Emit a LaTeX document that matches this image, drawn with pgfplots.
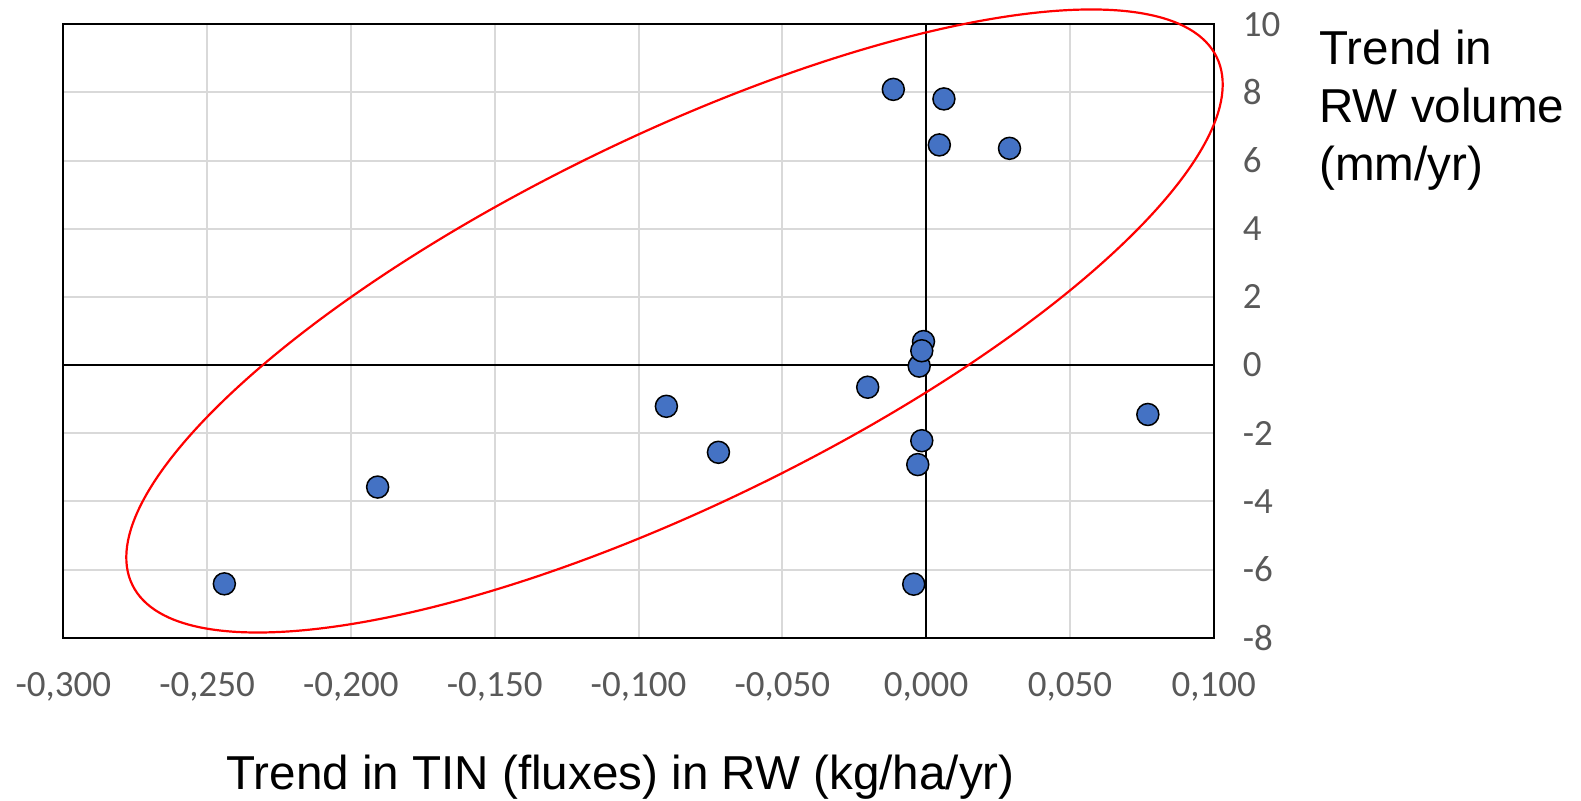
\documentclass[border=0pt]{standalone}
\usepackage{fontspec}
\setmainfont{Liberation Sans}
\newfontfamily\carlito{Carlito}
\usepackage{pgfplots}
\pgfplotsset{compat=1.18}
\definecolor{ptblue}{HTML}{4472C4}
\definecolor{gridgray}{HTML}{D9D9D9}
\definecolor{tickgray}{HTML}{595959}
\begin{document}
\begin{tikzpicture}
\begin{axis}[
  at={(31.65pt,81.65pt)}, anchor=south west,
  scale only axis, width=575.2pt, height=306.7pt,
  xmin=-0.3, xmax=0.1, ymin=-8, ymax=10,
  xtick={-0.3,-0.25,-0.2,-0.15,-0.1,-0.05,0,0.05,0.1},
  ytick={-8,-6,-4,-2,0,2,4,6,8,10},
  major tick length=0pt,
  grid=major,
  major grid style={gridgray, line width=1pt},
  axis line style={black, line width=0.9pt},
  /pgf/number format/assume math mode=true,
  xticklabel style={font=\carlito\fontsize{18.5}{20}\selectfont, text=tickgray,
    anchor=base, yshift=-29.5pt,
    /pgf/number format/.cd, fixed, fixed zerofill, precision=3, use comma},
  yticklabel pos=right,
  yticklabel style={font=\carlito\fontsize{18.5}{20}\selectfont, text=tickgray,
    anchor=west, xshift=11pt},
  extra x ticks={0}, extra y ticks={0},
  extra x tick labels={}, extra y tick labels={},
  extra tick style={major grid style={black, line width=0.9pt}},
  clip=false,
]
\addplot[only marks, mark=*, mark size=5.5pt,
  mark options={fill=ptblue, draw=black, line width=0.75pt}]
coordinates {
(-0.0114,8.09) (0.0062,7.81) (0.0046,6.46) (0.0290,6.36)
(-0.0009,0.69) (-0.0024,-0.03) (-0.0015,0.42) (-0.0203,-0.65)
(0.0771,-1.45) (-0.0015,-2.22) (-0.0029,-2.92) (-0.0043,-6.43)
(-0.0903,-1.21) (-0.0722,-2.56) (-0.1907,-3.58) (-0.2440,-6.42)
};
\end{axis}
\draw[red, line width=1.1pt, rotate around={25.95:(337.25pt,240pt)}]
  (337.25pt,240pt) ellipse [x radius=301.5pt, y radius=92.05pt];
\begingroup
\fontsize{23.8}{29}\selectfont
\node[anchor=base west, inner sep=0pt] at (659.5pt,368.35pt) {Trend in};
\node[anchor=base west, inner sep=0pt] at (659.5pt,339.35pt) {RW volume};
\node[anchor=base west, inner sep=0pt] at (659.5pt,310.35pt) {(mm/yr)};
\node[anchor=base west, inner sep=0pt] at (113pt,5.5pt) {Trend in TIN (fluxes) in RW (kg/ha/yr)};
\endgroup
\pgfresetboundingbox
\path (0,0) rectangle (790.5pt,400.5pt);
\end{tikzpicture}
\end{document}
